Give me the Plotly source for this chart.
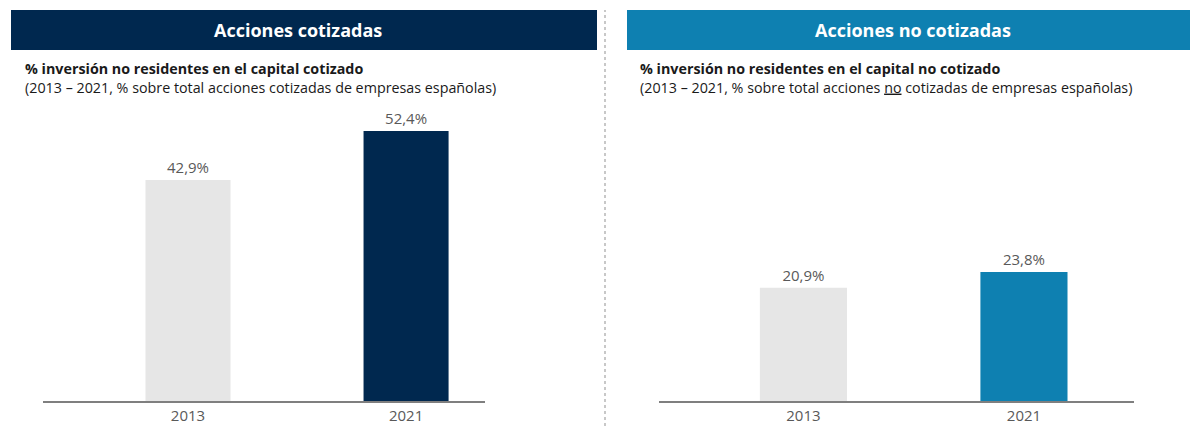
import plotly.graph_objects as go

NAVY = "#00284F"
TEAL = "#0E80B1"
LIGHT = "#E6E6E6"
GREY_TXT = "#595959"
AXIS = "#7F7F7F"
FONT = "Open Sans, sans-serif"

years = ["2013", "2021"]
cotizadas = [42.9, 52.4]
no_cotizadas = [20.9, 23.8]

W, H = 1190, 432


def px(x):
    return x / W


def py(y):
    return 1 - y / H


fig = go.Figure()

fig.add_trace(go.Bar(
    x=years, y=cotizadas, xaxis="x", yaxis="y",
    marker=dict(color=[LIGHT, NAVY], line=dict(width=0)),
    width=0.39,
    texttemplate="%{y:.1f}%", textposition="outside",
    textfont=dict(size=15, color=GREY_TXT, family=FONT),
    cliponaxis=False, hoverinfo="skip",
))
fig.add_trace(go.Bar(
    x=years, y=no_cotizadas, xaxis="x2", yaxis="y2",
    marker=dict(color=[LIGHT, TEAL], line=dict(width=0)),
    width=0.395,
    texttemplate="%{y:.1f}%", textposition="outside",
    textfont=dict(size=15, color=GREY_TXT, family=FONT),
    cliponaxis=False, hoverinfo="skip",
))

ydom = [py(401), py(100)]
common_x = dict(showgrid=False, zeroline=False, showline=True, linecolor=AXIS,
                linewidth=2, ticks="", tickfont=dict(size=15, color=GREY_TXT, family=FONT),
                fixedrange=True)
common_y = dict(visible=False, showgrid=False, zeroline=False, fixedrange=True)

fig.update_layout(
    width=W, height=H,
    margin=dict(l=0, r=0, t=0, b=0),
    paper_bgcolor="white", plot_bgcolor="white",
    separators=",.",
    showlegend=False,
    font=dict(family=FONT, color=GREY_TXT),
    xaxis=dict(domain=[px(43), px(485)], range=[-0.665, 1.362], anchor="y", **common_x),
    yaxis=dict(domain=ydom, range=[0, 58.4], anchor="x", **common_y),
    xaxis2=dict(domain=[px(659), px(1134)], range=[-0.655, 1.499], anchor="y2", **common_x),
    yaxis2=dict(domain=ydom, range=[0, 55.5], anchor="x2", **common_y),
)

# header bands
fig.add_shape(type="rect", xref="paper", yref="paper",
              x0=px(11), x1=px(597), y0=py(50), y1=py(10),
              fillcolor=NAVY, line=dict(width=0), layer="below")
fig.add_shape(type="rect", xref="paper", yref="paper",
              x0=px(627), x1=px(1190), y0=py(50), y1=py(10),
              fillcolor=TEAL, line=dict(width=0), layer="below")

# dotted divider
fig.add_shape(type="line", xref="paper", yref="paper",
              x0=px(605), x1=px(605), y0=py(426), y1=py(10),
              line=dict(color="#C8C8C8", width=2, dash="dot"))

fig.add_annotation(x=px(298), y=py(30), xref="paper", yref="paper",
                   xanchor="center", yanchor="middle",
                   text="<b>Acciones cotizadas</b>", showarrow=False,
                   font=dict(size=18, color="white", family=FONT))
fig.add_annotation(x=px(913), y=py(30), xref="paper", yref="paper",
                   xanchor="center", yanchor="middle",
                   text="<b>Acciones no cotizadas</b>", showarrow=False,
                   font=dict(size=18, color="white", family=FONT))

fig.add_annotation(x=px(23), y=py(57), xref="paper", yref="paper",
                   xanchor="left", yanchor="top", align="left", showarrow=False,
                   text="<b>% inversión no residentes en el capital cotizado</b><br>"
                        "(2013 – 2021, % sobre total acciones cotizadas de empresas españolas)",
                   font=dict(size=14.3, color="#1A1A1A", family=FONT))
fig.add_annotation(x=px(638), y=py(57), xref="paper", yref="paper",
                   xanchor="left", yanchor="top", align="left", showarrow=False,
                   text="<b>% inversión no residentes en el capital no cotizado</b><br>"
                        "(2013 – 2021, % sobre total acciones <u>no</u> cotizadas de empresas españolas)",
                   font=dict(size=14.3, color="#1A1A1A", family=FONT))

fig.write_html("out.html", config={"displayModeBar": False},
               post_script="document.body.style.margin='0';")
